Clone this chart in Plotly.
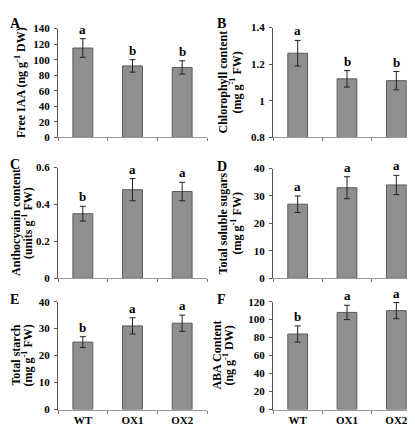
import plotly.graph_objects as go

categories = ["WT", "OX1", "OX2"]

iaa_values = [115, 92, 90]
iaa_errors = [12, 8, 8.5]
iaa_letters = ["a", "b", "b"]

chl_values = [1.26, 1.12, 1.11]
chl_errors = [0.07, 0.045, 0.05]
chl_letters = ["a", "b", "b"]

antho_values = [0.35, 0.48, 0.47]
antho_errors = [0.04, 0.06, 0.05]
antho_letters = ["b", "a", "a"]

sugar_values = [27, 33, 34]
sugar_errors = [3, 4, 3.5]
sugar_letters = ["a", "a", "a"]

starch_values = [25, 31, 32]
starch_errors = [2, 3, 3]
starch_letters = ["b", "a", "a"]

aba_values = [84, 108, 110]
aba_errors = [9, 8, 9]
aba_letters = ["b", "a", "a"]

W, H = 415, 425
FONT = "Liberation Serif, Times New Roman, serif"

panels = [
    dict(v=iaa_values, e=iaa_errors, l=iaa_letters, rng=[0, 140], dt=20,
         titles=[("<b>Free IAA (ng g<sup>-1</sup> DW)</b>", 13)], letter="A",
         x0=50, x1=199, y0=15, y1=127),
    dict(v=chl_values, e=chl_errors, l=chl_letters, rng=[0.8, 1.4], dt=0.2,
         titles=[("<b>Chlorophyll content</b>", 215), ("<b>(mg g<sup>-1</sup> FW)</b>", 228)], letter="B",
         x0=265, x1=413, y0=14, y1=127),
    dict(v=antho_values, e=antho_errors, l=antho_letters, rng=[0, 0.6], dt=0.2,
         titles=[("<b>Anthocyanin content</b>", 8), ("<b>(units g<sup>-1</sup> FW)</b>", 20)], letter="C",
         x0=50, x1=199, y0=158, y1=272),
    dict(v=sugar_values, e=sugar_errors, l=sugar_letters, rng=[0, 40], dt=10,
         titles=[("<b>Total soluble sugars</b>", 215), ("<b>(mg g<sup>-1</sup> FW)</b>", 228)], letter="D",
         x0=265, x1=413, y0=159, y1=272),
    dict(v=starch_values, e=starch_errors, l=starch_letters, rng=[0, 40], dt=10,
         titles=[("<b>Total starch</b>", 8), ("<b>(mg g<sup>-1</sup> FW)</b>", 20)], letter="E",
         x0=50, x1=199, y0=296, y1=407),
    dict(v=aba_values, e=aba_errors, l=aba_letters, rng=[0, 120], dt=20,
         titles=[("<b>ABA Content</b>", 209), ("<b>(ng g<sup>-1</sup> DW)</b>", 221)], letter="F",
         x0=265, x1=413, y0=296, y1=407),
]

letter_pos = {"A": (0, 0), "B": (207, 0), "C": (0, 145), "D": (207, 147), "E": (0, 284), "F": (207, 284)}

fig = go.Figure()
annotations = []
layout = {}
for i, p in enumerate(panels):
    n = i + 1
    xa = "x" if n == 1 else f"x{n}"
    ya = "y" if n == 1 else f"y{n}"
    fig.add_trace(go.Bar(
        x=categories, y=p["v"], xaxis=xa, yaxis=ya,
        marker=dict(color="#8f8f8f", line=dict(color="#5a5a5a", width=1)),
        width=0.4,
        error_y=dict(type="data", array=p["e"], visible=True, color="#222222",
                     thickness=1, width=3),
        showlegend=False,
    ))
    bottom = i >= 4
    layout["xaxis" if n == 1 else f"xaxis{n}"] = dict(
        domain=[p["x0"] / W, p["x1"] / W], anchor=ya,
        showline=True, linecolor="#999999", linewidth=1,
        ticks="outside", tickson="boundaries", ticklen=3, tickcolor="#777777",
        showticklabels=bottom, showgrid=False, zeroline=False,
        tickfont=dict(family=FONT, size=11, color="black", weight="bold"),
    )
    layout["yaxis" if n == 1 else f"yaxis{n}"] = dict(
        domain=[1 - p["y1"] / H, 1 - p["y0"] / H], anchor=xa,
        range=p["rng"], dtick=p["dt"], showline=True, linecolor="#555555", linewidth=1,
        ticks="outside", ticklen=3, tickcolor="#555555", showgrid=False, zeroline=False,
        ticklabelstandoff=2,
        tickfont=dict(family=FONT, size=11, color="black", weight="bold"),
    )
    for c, val, err, lt in zip(categories, p["v"], p["e"], p["l"]):
        annotations.append(dict(
            x=c, y=val + err, xref=xa, yref=ya, text=f"<b>{lt}</b>", showarrow=False,
            yanchor="bottom", yshift=0,
            font=dict(family=FONT, size=13, color="black"),
        ))
    for txt, tx in p["titles"]:
        annotations.append(dict(
            x=tx / W, y=1 - (p["y0"] + p["y1"]) / 2 / H, xref="paper", yref="paper",
            text=txt, textangle=-90, showarrow=False, xanchor="center", yanchor="middle",
            font=dict(family=FONT, size=12, color="black"),
        ))
    lx, ly = letter_pos[p["letter"]]
    annotations.append(dict(
        x=lx / W, y=1 - ly / H, xref="paper", yref="paper", text=f"<b>{p['letter']}</b>",
        showarrow=False, xanchor="left", yanchor="top",
        font=dict(family=FONT, size=14, color="black"),
    ))

fig.update_layout(
    width=W, height=H, margin=dict(l=0, r=0, t=0, b=0),
    paper_bgcolor="white", plot_bgcolor="white",
    annotations=annotations, **layout,
)
fig.write_html("out.html")
